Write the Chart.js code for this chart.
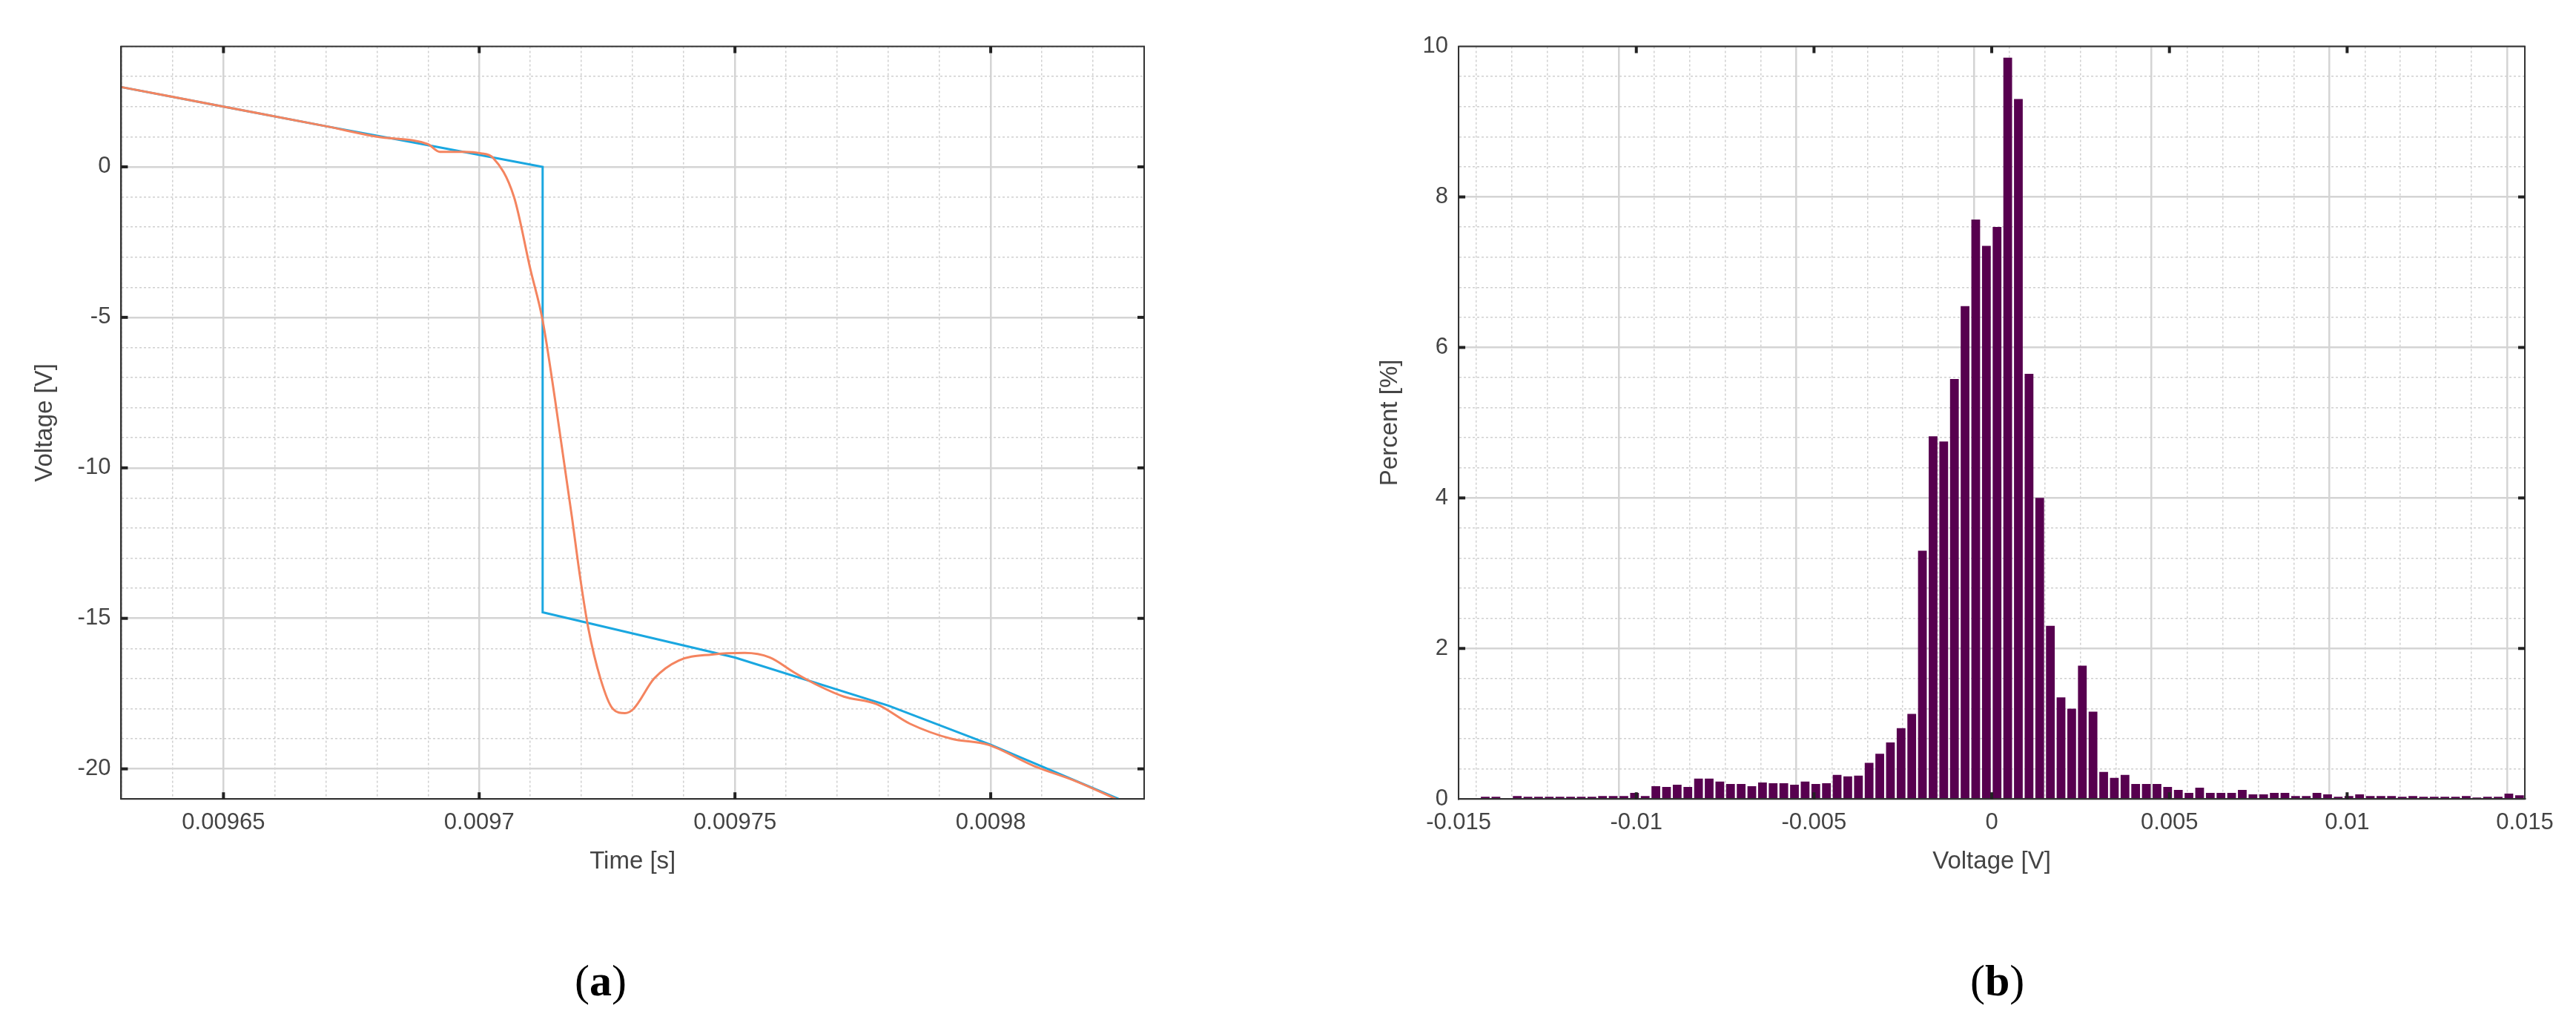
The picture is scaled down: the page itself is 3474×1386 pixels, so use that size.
<!DOCTYPE html>
<html><head><meta charset="utf-8">
<script src="https://cdn.jsdelivr.net/npm/chart.js@4.4.0/dist/chart.umd.min.js"></script>
<style>
body{margin:0;background:#fff;width:3474px;height:1386px;position:relative;overflow:hidden;font-family:"Liberation Sans",sans-serif}
.box{position:absolute}
.lab{position:absolute;font-family:"Liberation Serif",serif;font-size:60px;color:#000}
</style></head><body>
<div class="box" style="left:37px;top:30px;width:1520px;height:1156px"><canvas id="c1"></canvas></div>
<div class="box" style="left:1851px;top:30px;width:1609px;height:1156px"><canvas id="c2"></canvas></div>
<div class="lab" style="left:775px;top:1288px">(<b>a</b>)</div>
<div class="lab" style="left:2657px;top:1288px">(<b>b</b>)</div>
<script>
// Panel (a): time [s] vs voltage [V]
const idealTime = [0.00963,0.00965,0.00967,0.00969,0.0097124,0.0097124,0.00975,0.00978,0.0098,0.009825];
const idealVolt = [2.65,2.0,1.35,0.72,0.0,-14.8,-16.3,-17.9,-19.2,-21.0];
const measTime = [0.00963,0.00965,0.00967,0.00968,0.00969,0.0096923,0.0096971,0.0097003,0.0097027,0.0097068,0.00971,0.0097124,0.0097148,0.0097181,0.0097197,0.0097213,0.0097237,0.0097261,0.0097285,0.0097302,0.0097342,0.009739,0.0097455,0.0097519,0.0097568,0.0097616,0.0097665,0.0097713,0.0097777,0.0097842,0.0097923,0.0097995,0.0098084,0.0098165,0.0098245];
const measVolt = [2.65,2.0,1.35,1.0,0.75,0.5,0.5,0.45,0.3,-1.0,-3.4,-5.1,-7.7,-11.6,-13.6,-15.3,-17.0,-18.0,-18.15,-18.0,-17.0,-16.4,-16.2,-16.15,-16.3,-16.8,-17.25,-17.6,-17.85,-18.5,-19.0,-19.2,-19.9,-20.4,-21.0];
const xTicksA = [0.00965,0.0097,0.00975,0.0098];
const yTicksA = [0,-5,-10,-15,-20];
// Panel (b): histogram, bins of 0.0003 V from -0.015 to 0.015
const binStart = -0.015, binWidth = 0.0003;
const percent = [0,0,0.03,0.03,0,0.04,0.03,0.03,0.03,0.03,0.03,0.03,0.03,0.04,0.04,0.04,0.08,0.04,0.17,0.16,0.19,0.16,0.27,0.27,0.23,0.2,0.2,0.17,0.22,0.21,0.21,0.19,0.23,0.2,0.21,0.32,0.3,0.31,0.48,0.6,0.75,0.94,1.13,3.3,4.82,4.75,5.58,6.55,7.7,7.35,
7.6,9.85,9.3,5.65,4.0,2.3,1.35,1.2,1.77,1.16,0.36,0.28,0.32,0.2,0.2,0.2,0.16,0.12,0.08,0.15,0.08,0.08,0.08,0.12,0.06,0.06,0.08,0.08,0.04,0.04,0.08,0.06,0.03,0.04,0.06,0.04,0.04,0.04,0.03,0.04,0.03,0.03,0.03,0.03,0.04,0.02,0.03,0.03,0.07,0.05];
const xTicksB = [-0.015,-0.01,-0.005,0,0.005,0.01,0.015];
const yTicksB = [0,2,4,6,8,10];

const TXT='#444', FS=31;
Chart.defaults.font.family='"Liberation Sans", sans-serif';
Chart.defaults.color=TXT;
const isMajor=(v,list)=>list.some(t=>Math.abs(t-v)<1e-9);
function gridOpts(list){
  return {color:(c)=>c.tick&&isMajor(c.tick.value,list)?'#d4d4d4':'#d0d0d0',
          lineWidth:(c)=>c.tick&&isMajor(c.tick.value,list)?2.5:1.5, drawTicks:false};
}
function borderOpts(list){
  return {display:true,color:'#333',width:2,dash:(c)=>c.tick&&isMajor(c.tick.value,list)?[]:[3,3]};
}
const frame={id:'frame',afterDraw(ch){const a=ch.chartArea,x=ch.ctx;x.save();x.strokeStyle='#333';x.lineWidth=2;x.strokeRect(a.left,a.top,a.right-a.left,a.bottom-a.top);
 x.fillStyle='#222';
 for(const id of ['x','y']){const s=ch.scales[id];const list=s.options._majors;for(const t of list){const p=s.getPixelForValue(t);
  if(id==='x'){if(p<a.left+2||p>a.right-2)continue;x.fillRect(p-2,a.top,4,9);x.fillRect(p-2,a.bottom-9,4,9);}
  else{if(p<a.top+2||p>a.bottom-2)continue;x.fillRect(a.left,p-2,9,4);x.fillRect(a.right-9,p-2,9,4);}}}
 x.restore();}};

new Chart(document.getElementById('c1'),{type:'line',
 data:{datasets:[
  {data:measTime.map((t,i)=>({x:t,y:measVolt[i]})),borderColor:'#f4845f',borderWidth:3,pointRadius:0,tension:0.4,cubicInterpolationMode:'monotone'},
  {data:idealTime.map((t,i)=>({x:t,y:idealVolt[i]})),borderColor:'#1aa7e0',borderWidth:3,pointRadius:0,tension:0}
 ]},
 options:{responsive:true,maintainAspectRatio:false,animation:false,
  layout:{padding:{right:0,top:2,left:0,bottom:0}},
  plugins:{legend:{display:false},tooltip:{enabled:false}},
  scales:{
   x:{type:'linear',min:0.00963,max:0.00983,_majors:xTicksA,
      ticks:{stepSize:0.00001,autoSkip:false,maxRotation:0,maxTicksLimit:200,font:{size:FS},padding:14,
        callback:(v)=>isMajor(v,xTicksA)?String(+v.toFixed(5)):''},
      grid:gridOpts(xTicksA),border:borderOpts(xTicksA),
      title:{display:true,text:'Time [s]',font:{size:FS+2},padding:{top:0}}},
   y:{type:'linear',min:-21,max:4,_majors:yTicksA,
      ticks:{stepSize:1,autoSkip:false,maxTicksLimit:200,font:{size:FS},padding:14,
        callback:(v)=>isMajor(v,yTicksA)?String(v):''},
      grid:gridOpts(yTicksA),border:borderOpts(yTicksA),
      title:{display:true,text:'Voltage [V]',font:{size:FS+2},padding:{bottom:10}}}
  }},plugins:[frame]});

new Chart(document.getElementById('c2'),{type:'bar',
 data:{datasets:[{data:percent.map((p,i)=>({x:binStart+binWidth*(i+0.5),y:p})),backgroundColor:'#57004f',borderWidth:0,barPercentage:0.82,categoryPercentage:1}]},
 options:{responsive:true,maintainAspectRatio:false,animation:false,
  layout:{padding:{right:55,top:2}},
  plugins:{legend:{display:false},tooltip:{enabled:false}},
  scales:{
   x:{type:'linear',min:-0.015,max:0.015,offset:false,_majors:xTicksB,
      ticks:{stepSize:0.001,autoSkip:false,maxRotation:0,maxTicksLimit:200,font:{size:FS},padding:14,
        callback:(v)=>isMajor(v,xTicksB)?String(+v.toFixed(3)):''},
      grid:gridOpts(xTicksB),border:borderOpts(xTicksB),
      title:{display:true,text:'Voltage [V]',font:{size:FS+2},padding:{top:0}}},
   y:{type:'linear',min:0,max:10,_majors:yTicksB,
      ticks:{stepSize:0.4,autoSkip:false,maxTicksLimit:200,font:{size:FS},padding:14,
        callback:(v)=>isMajor(v,yTicksB)?String(Math.round(v)):''},
      grid:gridOpts(yTicksB),border:borderOpts(yTicksB),
      title:{display:true,text:'Percent [%]',font:{size:FS+2},padding:{bottom:10}}}
  }},plugins:[frame]});
</script></body></html>
